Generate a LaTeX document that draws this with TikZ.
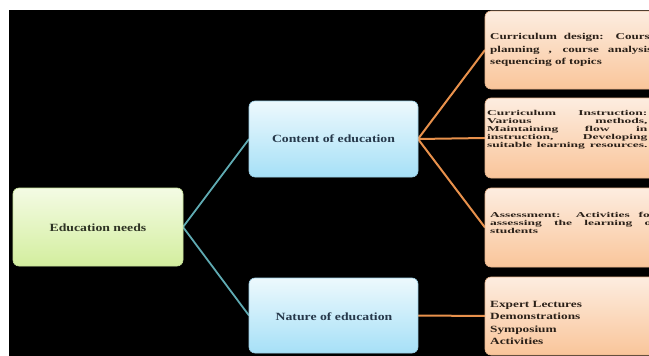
\documentclass[tikz,border=0pt]{standalone}
\usepackage{fontspec}
\setmainfont{Liberation Serif}
\definecolor{gTop}{HTML}{F4FBE4}
\definecolor{gBot}{HTML}{D3EE9E}
\definecolor{gLine}{HTML}{C8E39A}
\definecolor{bTop}{HTML}{EDF9FD}
\definecolor{bBot}{HTML}{A6E0F7}
\definecolor{bLine}{HTML}{9CCFE6}
\definecolor{oTop}{HTML}{FDEDE0}
\definecolor{oBot}{HTML}{F9C59A}
\definecolor{oLine}{HTML}{E8B48C}
\definecolor{tealC}{HTML}{5FAAB2}
\definecolor{orangeC}{HTML}{E8914C}
\definecolor{txtG}{HTML}{2E3324}
\definecolor{txtB}{HTML}{26384A}
\definecolor{txtO}{HTML}{2A2018}
\tikzset{
  boxbase/.style={rectangle, rounded corners=6pt, line width=0.6pt, inner sep=0pt},
  greenbox/.style={boxbase, draw=gLine, top color=gTop, bottom color=gBot},
  bluebox/.style={boxbase, draw=bLine, top color=bTop, bottom color=bBot},
  orangebox/.style={boxbase, draw=oLine, top color=oTop, bottom color=oBot,
    minimum width=180pt, minimum height=79pt},
  mainlabel/.style={inner sep=0pt, font=\fontsize{11}{13}\selectfont\bfseries},
  boxtext/.style={inner sep=0pt, anchor=west, text=txtO},
  tealline/.style={draw=tealC, line width=1.8pt},
  orangeline/.style={draw=orangeC, line width=2pt},
}
\newcommand{\jl}[1]{\makebox[\linewidth][s]{#1}}
\begin{document}
\begin{tikzpicture}[x=1pt,y=-1pt]
\clip (0,0) rectangle (649,356);
\fill[white] (0,0) rectangle (649,356);
\fill[black] (9,10) rectangle (649,356);

% connectors first (behind boxes)
\coordinate (edE) at (183,227);
\coordinate (coW) at (249,139);
\coordinate (naW) at (249,315.5);
\coordinate (coE) at (418,139);
\coordinate (naE) at (418,315.5);
\coordinate (o1W) at (485,50);
\coordinate (o2W) at (485,138);
\coordinate (o3W) at (485,227.5);
\coordinate (o4W) at (485,316);
\draw[tealline] (edE) -- (coW);
\draw[tealline] (edE) -- (naW);
\draw[orangeline] (coE) -- (o1W);
\draw[orangeline] (coE) -- (o2W);
\draw[orangeline] (coE) -- (o3W);
\draw[orangeline] (naE) -- (o4W);

% main boxes
\node[greenbox, minimum width=170pt, minimum height=78pt] (ed) at (98,227) {};
\node[mainlabel, text=txtG] (edT) at (98,228) {\scalebox{1.25}[1]{Education needs}};
\node[bluebox, minimum width=169pt, minimum height=76pt] (co) at (333.5,139) {};
\node[mainlabel, text=txtB] (coT) at (333.5,139) {\scalebox{1.25}[1]{Content of education}};
\node[bluebox, minimum width=169pt, minimum height=75pt] (na) at (333.5,315.5) {};
\node[mainlabel, text=txtB] (naT) at (334,317) {\scalebox{1.25}[1]{Nature of education}};

% orange boxes
\node[orangebox, minimum height=78pt] (o1) at (575,50) {};
\node[orangebox, minimum height=80pt] (o2) at (575,138) {};
\node[orangebox, minimum height=79pt] (o3) at (575,227.5) {};
\node[orangebox, minimum height=78pt] (o4) at (575,316) {};

\node[boxtext] (t1) at (490,50) {\scalebox{1.45}[1]{\parbox{114pt}{\fontsize{9}{12.5}\selectfont\bfseries
\jl{Curriculum design: Course}\\
\jl{planning , course analysis,}\\
sequencing of topics}}};
\node[boxtext] (t2) at (487,130) {\scalebox{1.8}[1]{\parbox{89pt}{\fontsize{7.5}{8}\selectfont\bfseries
\jl{Curriculum Instruction:}\\
\jl{Various methods,}\\
\jl{Maintaining flow in}\\
\jl{instruction, Developing}\\
\jl{suitable learning resources.}}}};
\node[boxtext] (t3) at (490,222.5) {\scalebox{1.8}[1]{\parbox{92pt}{\fontsize{7.5}{8}\selectfont\bfseries
\jl{Assessment: Activities for}\\
\jl{assessing the learning of}\\
students}}};
\node[boxtext] (t4) at (490,323) {\scalebox{1.4}[1]{\parbox{110pt}{\fontsize{9.5}{12.5}\selectfont\bfseries
Expert Lectures\\
Demonstrations\\
Symposium\\
Activities}}};
\end{tikzpicture}
\end{document}
